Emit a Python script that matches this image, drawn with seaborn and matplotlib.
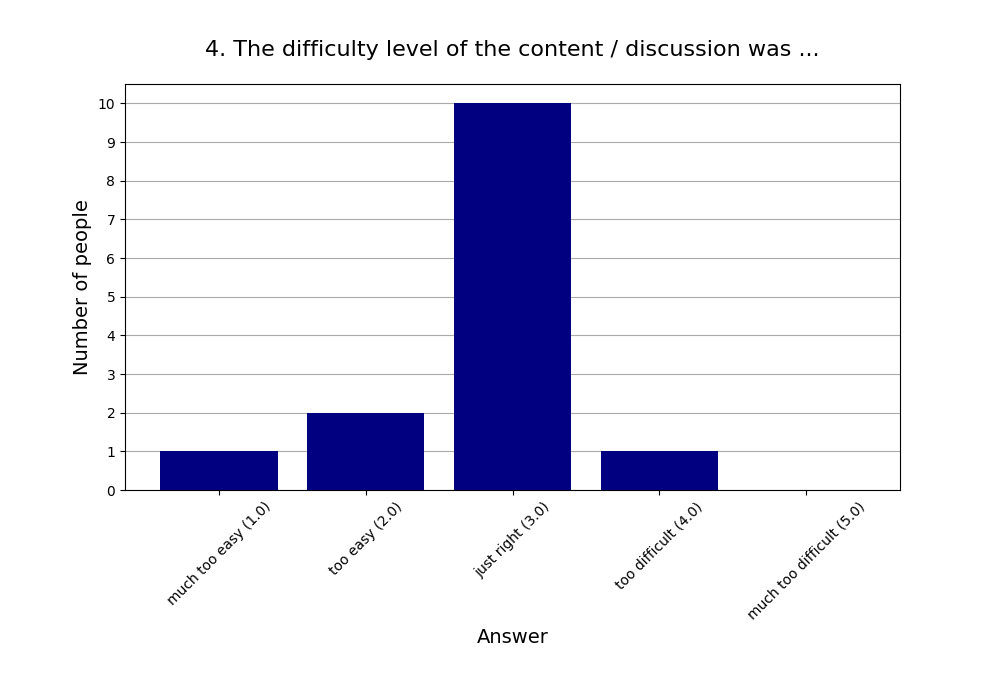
import matplotlib
matplotlib.use("Agg")
import matplotlib.pyplot as plt
import pandas as pd
import seaborn as sns

answers = [
    "much too easy (1.0)",
    "too easy (2.0)",
    "just right (3.0)",
    "too difficult (4.0)",
    "much too difficult (5.0)",
]
counts = [1, 2, 10, 1, 0]

df = pd.DataFrame({"Answer": answers, "Number of people": counts})

fig, ax = plt.subplots(figsize=(10, 7), dpi=100)
fig.subplots_adjust(left=0.125, right=0.9, top=0.88, bottom=0.3)

sns.barplot(data=df, x="Answer", y="Number of people", color="navy",
            saturation=1, width=0.8, ax=ax)

ax.set_xlim(-0.64, 4.64)
ax.set_ylim(0, 10.5)
ax.set_yticks(range(0, 11))
ax.yaxis.grid(True, color="#aaaaaa")
ax.set_axisbelow(True)
ax.tick_params(axis="x", labelrotation=45)

ax.set_title("4. The difficulty level of the content / discussion was ...",
             fontsize=16, pad=20)
ax.set_xlabel("Answer", fontsize=14)
ax.set_ylabel("Number of people", fontsize=14)

fig.savefig("out.png", dpi=100)
